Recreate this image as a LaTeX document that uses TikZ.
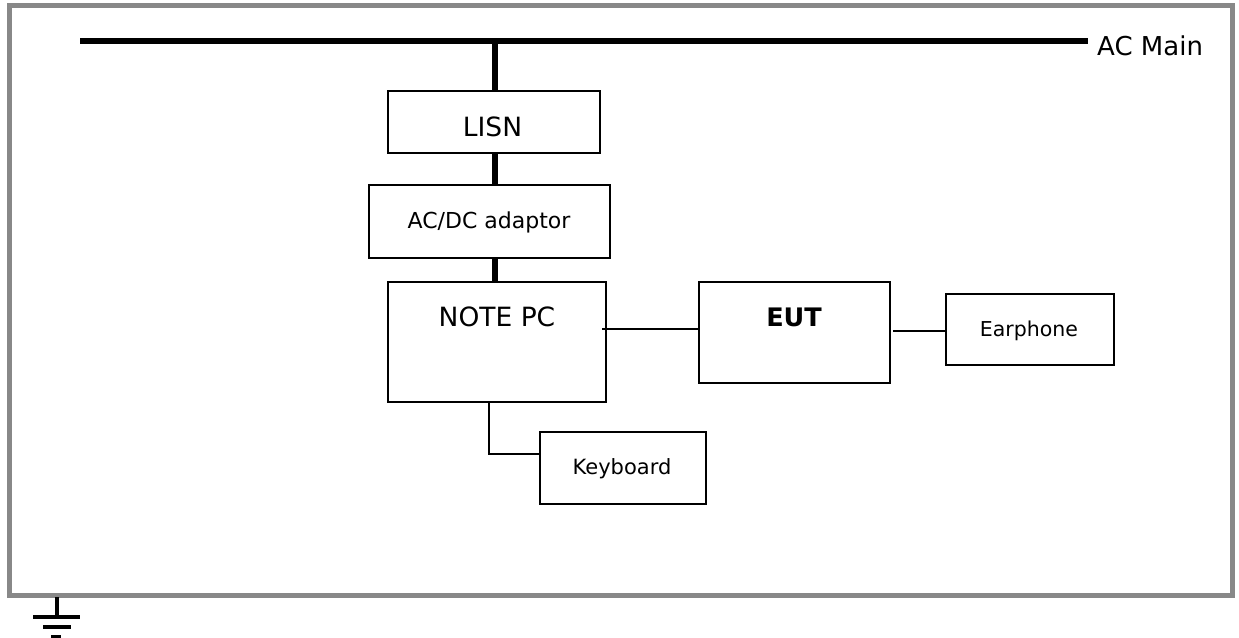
\documentclass[tikz,border=0pt]{standalone}
\usepackage{fontspec}
\setmainfont{DejaVu Sans}
\begin{document}
\begin{tikzpicture}[x=1pt,y=-1pt,
  box/.style={draw=black,line width=2.2pt,rectangle,inner sep=0pt,anchor=north west},
  thick line/.style={line width=5.5pt},
  thin line/.style={line width=2.2pt},
  lbl/.style={anchor=base,inner sep=0pt,text=black}]
\useasboundingbox (0,0) rectangle (1239,637);
% frame
\draw[line width=5pt,draw={rgb,255:red,136;green,136;blue,136}] (9.5,5) rectangle (1232,595.5);
% bus
\coordinate (busL) at (80,41);
\coordinate (busR) at (1088,41);
\coordinate (tap) at (495,41);
\draw[thick line] (busL) -- (busR);
\node[anchor=base west,inner sep=0pt] (acmain) at (1097,55) {\fontsize{26}{30}\selectfont AC Main};
% boxes
\node[box,minimum width=212pt,minimum height=62pt] (lisn) at (387,90) {};
\node[box,minimum width=241pt,minimum height=73pt] (adapt) at (368,184) {};
\node[box,minimum width=218pt,minimum height=120pt] (pc) at (387,281) {};
\node[box,minimum width=191pt,minimum height=101pt] (eut) at (698,281) {};
\node[box,minimum width=168pt,minimum height=71pt] (ear) at (945,293) {};
\node[box,minimum width=166pt,minimum height=72pt] (kb) at (539,431) {};
% labels
\node[lbl] (lisnT) at (492.5,136.5) {\fontsize{26.5}{30}\selectfont LISN};
\node[lbl] (adaptT) at (489,228.3) {\fontsize{22}{26}\selectfont AC/DC adaptor};
\node[lbl] (pcT) at (497,326) {\fontsize{26.5}{31}\selectfont NOTE PC};
\node[lbl] (eutT) at (794,326) {\fontsize{25.5}{30}\selectfont\bfseries EUT};
\node[lbl] (earT) at (1029,336.5) {\fontsize{20.5}{24}\selectfont Earphone};
\node[lbl] (kbT) at (622,474) {\fontsize{21}{25}\selectfont Keyboard};
% thick connectors
\draw[thick line] (tap) -- (tap |- lisn.north);
\draw[thick line] (lisn.south -| tap) -- (adapt.north -| tap);
\draw[thick line] (adapt.south -| tap) -- (pc.north -| tap);
% thin connectors
\coordinate (pcOut) at (602,329);
\draw[thin line] (pcOut) -- (eut.west |- pcOut);
\coordinate (eutOut) at (893,331);
\draw[thin line] (eutOut) -- (ear.west |- eutOut);
\coordinate (kbBend) at (489,454);
\draw[thin line] (pc.south -| kbBend) -- (kbBend) -- (kb.west |- kbBend);
% ground
\coordinate (g0) at (57,597);
\coordinate (g1) at (57,617);
\draw[line width=3.5pt] (g0) -- (g1);
\draw[line width=3.5pt] (33,617) -- (80,617);
\draw[line width=3.5pt] (43,627) -- (71,627);
\draw[line width=3.5pt] (51,637) -- (61,637);
\end{tikzpicture}
\end{document}
